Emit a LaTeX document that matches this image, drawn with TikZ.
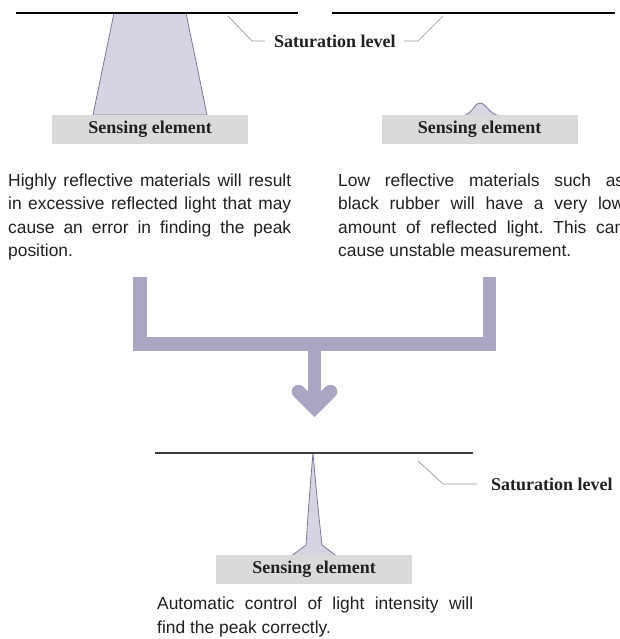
\documentclass[tikz,border=0pt]{standalone}
\usepackage{fontspec}
\setmainfont{Liberation Serif}
\newfontfamily\notefont{Liberation Sans}
\usetikzlibrary{positioning}

\definecolor{beamfill}{HTML}{D7D3E3}
\definecolor{beamedge}{HTML}{7D7994}
\definecolor{sensefill}{HTML}{D9DBDB}
\definecolor{arrowcol}{HTML}{A9A5C2}
\definecolor{inkcol}{HTML}{231F20}

\frenchspacing
\tolerance=10000
\hbadness=10000

\begin{document}
\begin{tikzpicture}[x=1pt, y=-1pt,
  sensor/.style={fill=sensefill, minimum width=196pt, minimum height=29pt, inner sep=0pt, font=\fontsize{18}{20}\selectfont\bfseries, text=inkcol},
  satlabel/.style={inner sep=0pt, font=\fontsize{18}{20}\selectfont\bfseries, text=inkcol},
  note/.style={anchor=north west, inner sep=0pt, align=justify, text=inkcol, font=\notefont\fontsize{17.4}{23.6}\selectfont},
  satline/.style={line width=1.2pt, black},
  leader/.style={line width=0.7pt, gray!80},
  beam/.style={fill=beamfill, draw=beamedge, line width=0.8pt},
  fatbar/.style={line width=13.5pt, arrowcol, miter limit=10}
]
\useasboundingbox (0,0) rectangle (619,639);
\clip (0,0) rectangle (619,639);

% strong reflection: wide beam clipped at the top
\draw[beam] (114,13) -- (186,13) -- (207,115) -- (93,115) -- cycle;
\draw[satline] (16,13) -- (298,13);
\node[sensor] (sense1) at (150,129.5) {Sensing element};

% weak reflection: low bump
\draw[beam] (463,115.5) .. controls (472,115) and (474,103) .. (480,103)
  .. controls (486,103) and (490,115) .. (499,115.5);
\draw[satline] (332,13) -- (615,13);
\node[sensor] (sense2) at (479.5,129.5) {Sensing element};

% shared saturation label
\coordinate (leadA) at (265,41);
\node[satlabel, right=9pt of leadA] (satlbl1) {Saturation level};
\draw[leader] (228,16) -- (252,41) -- (leadA);
\draw[leader] ([xshift=8pt]satlbl1.east) -- (418,41) -- (443,16);

\node[note, text width=283pt] (note1) at (8,173.2)
  {Highly reflective materials will result\linebreak
   in excessive reflected light that may\linebreak
   cause an error in finding the peak\linebreak
   position.};
\node[note, text width=286pt] (note2) at (338,173.2)
  {Low reflective materials such as\linebreak
   black rubber will have a very low\linebreak
   amount of reflected light. This can\linebreak
   cause unstable measurement.};

% merging arrow
\coordinate (barL) at (140,277);
\coordinate (barR) at (489.5,277);
\coordinate (barM) at (314.5,344);
\coordinate (tipM) at (314.5,407.5);
\draw[fatbar] (barL) -- (barL |- barM) -- (barR |- barM) -- (barR);
\draw[fatbar] (barM) -- (tipM);
\draw[fatbar, line cap=round] (298.5,391.5) -- (tipM) -- (330.5,391.5);

% controlled intensity: sharp peak
\draw[beam] (292,555.5) -- (306,545) .. controls (309,500) and (311.5,470) .. (313,453)
  .. controls (314.5,470) and (317,500) .. (322,545) -- (336,555.5);
\draw[satline, black!75] (155,453) -- (473,453);
\node[sensor] (sense3) at (314,569.5) {Sensing element};

\coordinate (leadB) at (477,484);
\node[satlabel, right=14pt of leadB] (satlbl2) {Saturation level};
\draw[leader] (418,461) -- (443,484) -- (leadB);

\node[note, text width=316pt] (note3) at (157,596.6)
  {Automatic control of light intensity will\linebreak
   find the peak correctly.};

\end{tikzpicture}
\end{document}
